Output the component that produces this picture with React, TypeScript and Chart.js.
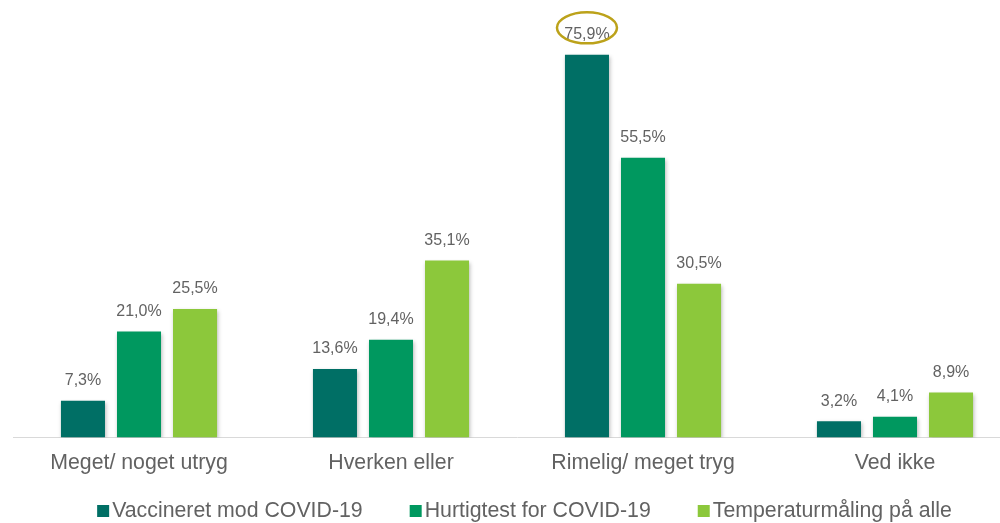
import React, { useEffect, useRef } from "react";
import { Chart, registerables } from "chart.js";

Chart.register(...registerables);

const categories = ["Meget/ noget utryg", "Hverken eller", "Rimelig/ meget tryg", "Ved ikke"];
const seriesNames = ["Vaccineret mod COVID-19", "Hurtigtest for COVID-19", "Temperaturmåling på alle"];
const vaccineret = [7.3, 13.6, 75.9, 3.2];
const hurtigtest = [21.0, 19.4, 55.5, 4.1];
const temperatur = [25.5, 35.1, 30.5, 8.9];
const colors = ["#006F65", "#00985F", "#8CC83B"];
const highlight = { dataset: 0, index: 2 };

const FONT = "Arial, 'Liberation Sans', sans-serif";
const TEXT = "#626262";

const shadowPlugin = {
  id: "barShadow",
  beforeDatasetsDraw(chart: any) {
    const ctx = chart.ctx;
    ctx.save();
    ctx.shadowColor = "rgba(0,0,0,0.28)";
    ctx.shadowBlur = 4;
    ctx.shadowOffsetX = 1;
    ctx.shadowOffsetY = 2;
  },
  afterDatasetsDraw(chart: any) {
    chart.ctx.restore();
  },
};

const labelPlugin = {
  id: "valueLabels",
  afterDatasetsDraw(chart: any) {
    const ctx = chart.ctx;
    ctx.save();
    ctx.font = `16px ${FONT}`;
    ctx.fillStyle = TEXT;
    ctx.textAlign = "center";
    ctx.textBaseline = "middle";
    chart.data.datasets.forEach((ds: any, di: number) => {
      const meta = chart.getDatasetMeta(di);
      meta.data.forEach((el: any, i: number) => {
        const v = ds.data[i] as number;
        ctx.fillText(v.toFixed(1).replace(".", ",") + "%", el.x, el.y - 20);
      });
    });
    const el = chart.getDatasetMeta(highlight.dataset).data[highlight.index];
    if (el) {
      ctx.strokeStyle = "#BCA21A";
      ctx.lineWidth = 2.5;
      ctx.beginPath();
      ctx.ellipse(el.x, el.y - 27, 30, 15.5, 0, 0, Math.PI * 2);
      ctx.stroke();
    }
    ctx.restore();
  },
};

const legendPlugin = {
  id: "customLegend",
  afterDraw(chart: any) {
    const ctx = chart.ctx;
    ctx.save();
    ctx.font = `21.3px ${FONT}`;
    const box = 12;
    const gapText = 3;
    const gapItem = 47;
    const widths = seriesNames.map((n) => ctx.measureText(n).width);
    const total = widths.reduce((a, b) => a + b, 0) + seriesNames.length * (box + gapText) + (seriesNames.length - 1) * gapItem;
    let x = 524.5 - total / 2;
    const cy = 511;
    ctx.textBaseline = "middle";
    ctx.textAlign = "left";
    seriesNames.forEach((n, i) => {
      ctx.fillStyle = colors[i];
      ctx.fillRect(x, cy - box / 2, box, box);
      x += box + gapText;
      ctx.fillStyle = TEXT;
      ctx.fillText(n, x, cy);
      x += widths[i] + gapItem;
    });
    ctx.restore();
  },
};

export default function App() {
  const ref = useRef<HTMLCanvasElement>(null);
  useEffect(() => {
    document.body.style.margin = "0";
    const chart = new Chart(ref.current!, {
      type: "bar",
      data: {
        labels: categories,
        datasets: [vaccineret, hurtigtest, temperatur].map((d, i) => ({
          label: seriesNames[i],
          data: d,
          backgroundColor: colors[i],
          borderWidth: 0,
          barPercentage: 0.786,
          categoryPercentage: 0.667,
        })),
      },
      options: {
        responsive: false,
        animation: false,
        layout: { padding: { left: 13, right: 0, top: 9, bottom: 42 } },
        plugins: {
          legend: { display: false },
          tooltip: { enabled: false },
        },
        scales: {
          x: {
            grid: { display: false },
            border: { display: true, color: "#D9D9D9", width: 1 },
            ticks: { color: TEXT, font: { size: 21.3, family: FONT }, padding: 5, maxRotation: 0 },
          },
          y: {
            display: false,
            min: 0,
            max: 85,
          },
        },
      },
      plugins: [shadowPlugin, labelPlugin, legendPlugin],
    });
    return () => chart.destroy();
  }, []);
  return (
    <div style={{ position: "fixed", left: 0, top: 0, width: 1000, height: 523, overflow: "hidden", background: "#fff" }}>
      <canvas ref={ref} width={1021} height={523} style={{ width: 1021, height: 523, display: "block" }} />
    </div>
  );
}
